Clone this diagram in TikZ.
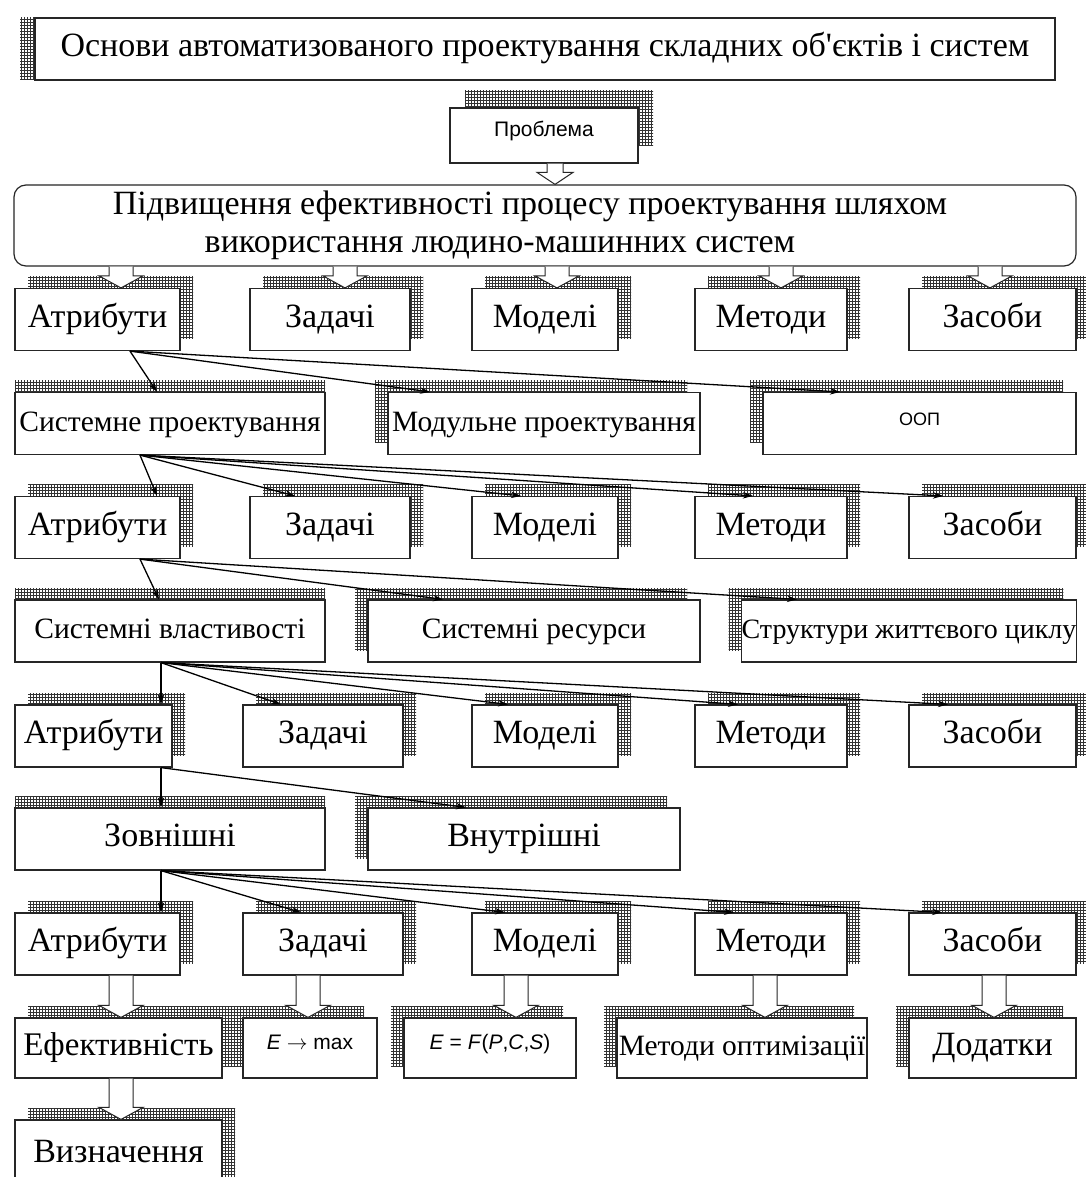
\documentclass[tikz,border=0pt]{standalone}
\usepackage{fontspec}
\setmainfont{Liberation Serif}
\setsansfont{Liberation Sans}
\usetikzlibrary{arrows.meta,shadows,patterns}

% hollow block arrow from node #1 down to node #2 at x=#3, half shaft #4
\newcommand{\barrow}[4]{%
  \path (#3,0 |- #1.south) coordinate (ba) (#3,0 |- #2.north) coordinate (bb);
  \draw[bar] ([xshift=-#4pt]ba) -- ([xshift=-#4pt, yshift=12pt]bb) -- ([xshift=-#4pt-10pt, yshift=12pt]bb) -- (bb)
    -- ([xshift=#4pt+10pt, yshift=12pt]bb) -- ([xshift=#4pt, yshift=12pt]bb) -- ([xshift=#4pt]ba);}

\begin{document}
\begin{tikzpicture}[x=1pt, y=-1pt,
    bx/.style={draw=black!85, fill=white, line width=1.2pt, inner sep=0pt, minimum height=62pt,
      text height=22pt, text depth=7pt, font=\fontsize{34}{38}\selectfont},
    mid/.style={font=\fontsize{29.5}{34}\selectfont},
    sans/.style={font=\sffamily\fontsize{21}{24}\selectfont},
    sh/.style 2 args={general shadow={shadow xshift=#1pt, shadow yshift=#2pt, pattern=grid, pattern color=black!80}},
    shr/.style={sh={13}{12}},
    shl/.style={sh={-13}{12}},
    sht/.style={sh={0}{12}},
    arr/.style={-{Stealth[length=10pt,width=6.5pt]}, line width=1.3pt},
    bar/.style={draw=black!85, fill=white, line width=1pt}]
  \fill[white] (0,0) rectangle (1086,1177);
  \useasboundingbox (0,0) rectangle (1086,1177);
  \clip (0,0) rectangle (1086,1177);

  % top
  \node[bx, sh={-15}{0}, minimum width=1020pt] (title) at (545,49) {Основи автоматизованого проектування складних об\textquotesingle єктів і систем};
  \node[bx, sh={15}{17}, sans, minimum width=188pt, minimum height=55pt] (prob) at (544,135.5) {\raisebox{6pt}{Проблема}};
  \node[bx, rounded corners=12pt, align=center, text height=, text depth=, minimum width=1062pt, minimum height=81pt] (goal) at (545,225.5)
    {Підвищення ефективності процесу проектування шляхом\hspace*{30pt}\\використання людино-машинних систем\hspace*{90pt}};

  % rows of five
  \foreach \r/\y/\xa/\wa/\xz in {1/319.5/97.5/165/330, 2/527.5/97.5/165/330, 3/736/93.5/157/323, 4/944/97.5/165/323}{
    \node[bx, shr, minimum width=\wa pt] (atr\r) at (\xa,\y) {Атрибути};
    \node[bx, shr, minimum width=160pt] (zad\r) at (\xz,\y) {Задачі};
    \node[bx, shr, minimum width=146pt] (mod\r) at (545,\y) {Моделі};
    \node[bx, shr, minimum width=152pt] (met\r) at (771,\y) {Методи};
    \node[bx, shr, minimum width=167pt] (zas\r) at (992.5,\y) {Засоби};
  }

  \node[bx, mid, sht, minimum width=310pt] (sysp) at (170,423.5) {Системне проектування};
  \node[bx, mid, shl, minimum width=312pt] (modp) at (544,423.5) {Модульне проектування};
  \node[bx, sans, shl, minimum width=313pt, font=\sffamily\fontsize{18}{22}\selectfont] (oop) at (919.5,423.5) {\raisebox{6pt}{ООП}};

  \node[bx, mid, sht, minimum width=310pt] (sysv) at (170,631) {Системні властивості};
  \node[bx, mid, shl, minimum width=332pt] (sysr) at (534,631) {Системні ресурси};
  \node[bx, shl, minimum width=334pt, font=\fontsize{28}{32}\selectfont] (life) at (909,631) {Структури життєвого циклу};

  \node[bx, sht, minimum width=310pt] (ext) at (170,839) {Зовнішні};
  \node[bx, shl, minimum width=312pt] (int) at (524,839) {Внутрішні};

  \node[bx, shr, minimum width=207pt, minimum height=60pt, font=\fontsize{33}{36}\selectfont] (eff) at (118.5,1048) {Ефективність};
  \node[bx, sans, shl, minimum width=134pt, minimum height=60pt] (emax) at (310,1048) {\raisebox{6pt}{\textit{E} $\rightarrow$ max}};
  \node[bx, sans, shl, minimum width=172pt, minimum height=60pt] (efun) at (490,1048) {\raisebox{6pt}{\textit{E} = \textit{F}(\textit{P},\textit{C},\textit{S})}};
  \node[bx, mid, shl, minimum width=250pt, minimum height=60pt] (opt) at (742,1048) {Методи оптимізації};
  \node[bx, shl, minimum width=167pt, minimum height=60pt] (app) at (992.5,1048) {Додатки};
  \node[bx, shr, minimum width=207pt, minimum height=70pt] (defn) at (118.5,1155) {Визначення};

  % block arrows
  \barrow{prob}{goal}{555}{8}
  \foreach \t/\x in {atr1/121, zad1/345, mod1/557, met1/781, zas1/990} {\barrow{goal}{\t}{\x}{12}}
  \foreach \s/\t/\x in {atr4/eff/121, zad4/emax/308, mod4/efun/516, met4/opt/765, zas4/app/994} {\barrow{\s}{\t}{\x}{12}}
  \barrow{eff}{defn}{121}{12}

  % thin arrows
  \foreach \t/\x in {sysp/157, modp/430, oop/840} \draw[arr] (130,0 |- atr1.south) -- (\x,0 |- \t.north);
  \foreach \t/\x in {atr2/157, zad2/295, mod2/521, met2/753, zas2/943} \draw[arr] (140,0 |- sysp.south) -- (\x,0 |- \t.north);
  \foreach \t/\x in {sysv/159, sysr/443, life/797} \draw[arr] (140,0 |- atr2.south) -- (\x,0 |- \t.north);
  \foreach \t/\x in {atr3/161, zad3/281, mod3/508, met3/738, zas3/948} \draw[arr] (161,0 |- sysv.south) -- (\x,0 |- \t.north);
  \foreach \t/\x in {ext/161, int/466} \draw[arr] (161,0 |- atr3.south) -- (\x,0 |- \t.north);
  \foreach \t/\x in {atr4/161, zad4/301, mod4/505, met4/734, zas4/942} \draw[arr] (161,0 |- ext.south) -- (\x,0 |- \t.north);
\end{tikzpicture}
\end{document}
